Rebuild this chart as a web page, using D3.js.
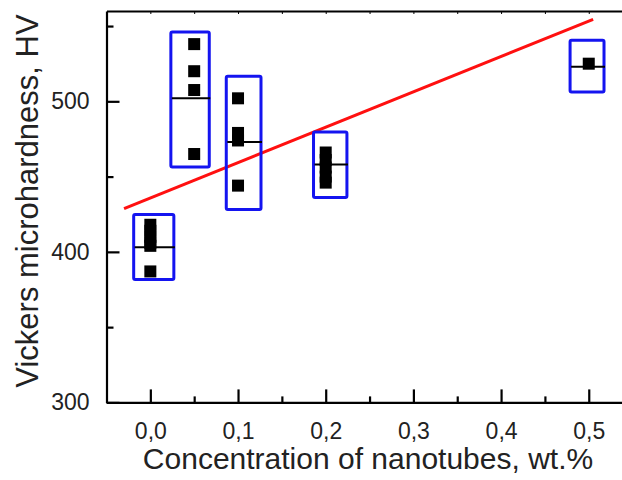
<!DOCTYPE html>
<html>
<head>
<meta charset="utf-8">
<script src="https://cdn.jsdelivr.net/npm/d3@7"></script>
<style>
  html, body { margin: 0; padding: 0; background: #fff; }
  svg { display: block; font-family: "Liberation Sans", Arial, sans-serif; }
</style>
</head>
<body>
<svg id="chart" width="622" height="480"></svg>
<script>
// Nanotube concentration (wt.%) for each sample group
const concentration = [0.0, 0.05, 0.1, 0.2, 0.5];
// Individual microhardness measurements, HV
const measurements = [
  [418, 414, 410, 406, 404, 387],
  [538, 520, 507.5, 465],
  [502, 479, 474, 444],
  [466, 461, 456, 450, 446],
  [525]
];
// Centre line of each group, HV
const centreValue = [403, 502, 473, 458, 523];
// Box extents per group (concentration and HV)
const boxLeft  = [-0.019, 0.0234, 0.0866, 0.1861, 0.4787];
const boxRight = [0.0268, 0.0672, 0.1262, 0.2242, 0.5174];
const boxLow   = [381.6, 456.4, 428.1, 436.1, 506.2];
const boxHigh  = [424.8, 546.0, 516.6, 479.6, 540.5];
// Linear fit: HV = intercept + slope * c
const fitIntercept = 435.8;
const fitSlope = 235;
const fitRange = [-0.03, 0.505];
// Axis ticks
const xTicks = [0, 0.1, 0.2, 0.3, 0.4, 0.5];
const xTickLabels = ["0,0", "0,1", "0,2", "0,3", "0,4", "0,5"];
const xMinorTicks = [0.05, 0.15, 0.25, 0.35, 0.45];
const yTicks = [300, 400, 500];
const yMinorTicks = [350, 450, 550];

const svg = d3.select("#chart");
const plotLeft = 106.5, plotRight = 632.6, plotTop = 11, plotBottom = 402.4;

const x = d3.scaleLinear().domain([-0.05, 0.55]).range([plotLeft, plotRight]);
const y = d3.scaleLinear().domain([300, 560]).range([plotBottom, plotTop]);

// Fit line
const fitLine = d3.line().x(d => x(d)).y(d => y(fitIntercept + fitSlope * d));
svg.append("path")
  .attr("d", fitLine(fitRange))
  .attr("fill", "none")
  .attr("stroke", "#ff1010")
  .attr("stroke-width", 3);

// Group boxes
const groups = concentration.map((c, i) => ({
  c, pts: measurements[i], centre: centreValue[i],
  x0: boxLeft[i], x1: boxRight[i], lo: boxLow[i], hi: boxHigh[i]
}));

svg.append("g").selectAll("rect")
  .data(groups).join("rect")
  .attr("x", d => x(d.x0))
  .attr("y", d => y(d.hi))
  .attr("width", d => x(d.x1) - x(d.x0))
  .attr("height", d => y(d.lo) - y(d.hi))
  .attr("rx", 1.5)
  .attr("fill", "none")
  .attr("stroke", "#1414f0")
  .attr("stroke-width", 3);

// Centre lines
svg.append("g").selectAll("line")
  .data(groups).join("line")
  .attr("x1", d => x(d.x0) + 1)
  .attr("x2", d => x(d.x1) + 1)
  .attr("y1", d => y(d.centre))
  .attr("y2", d => y(d.centre))
  .attr("stroke", "#000")
  .attr("stroke-width", 2);

// Measurement markers
const sq = 12;
const pts = groups.flatMap(g => g.pts.map(v => ({ c: g.c, v })));
svg.append("g").selectAll("rect")
  .data(pts).join("rect")
  .attr("x", d => x(d.c) - sq / 2)
  .attr("y", d => y(d.v) - sq / 2)
  .attr("width", sq)
  .attr("height", sq)
  .attr("fill", "#000");

// Axes with inward ticks
const axisStyle = g => {
  g.selectAll(".domain").attr("stroke", "#000").attr("stroke-width", 2.2);
  g.selectAll(".tick line").attr("stroke", "#000").attr("stroke-width", 2.2);
};

svg.append("g")
  .attr("transform", `translate(0,${plotBottom})`)
  .call(d3.axisBottom(x).tickValues(xTicks).tickSize(-13).tickSizeOuter(0)
        .tickFormat((d, i) => xTickLabels[i]).tickPadding(20))
  .call(axisStyle)
  .call(g => g.selectAll("text").attr("font-size", 23).attr("fill", "#222")
        .attr("font-family", "Liberation Sans, Arial, sans-serif"));

svg.append("g")
  .attr("transform", `translate(0,${plotBottom})`)
  .call(d3.axisBottom(x).tickValues(xMinorTicks).tickSize(-6).tickSizeOuter(0).tickFormat(""))
  .call(axisStyle)
  .call(g => g.select(".domain").remove());

svg.append("g")
  .attr("transform", `translate(${plotLeft},0)`)
  .call(d3.axisLeft(y).tickValues(yTicks).tickSize(-13).tickSizeOuter(0).tickPadding(17))
  .call(axisStyle)
  .call(g => g.selectAll("text").attr("font-size", 23).attr("fill", "#222")
        .attr("font-family", "Liberation Sans, Arial, sans-serif"));

svg.append("g")
  .attr("transform", `translate(${plotLeft},0)`)
  .call(d3.axisLeft(y).tickValues(yMinorTicks).tickSize(-7).tickSizeOuter(0).tickFormat(""))
  .call(axisStyle)
  .call(g => g.select(".domain").remove());

// Top frame with small ticks
svg.append("g")
  .attr("transform", `translate(0,${plotTop})`)
  .call(d3.axisTop(x).tickValues(xTicks.concat(xMinorTicks)).tickSize(-3).tickSizeOuter(0).tickFormat(""))
  .call(axisStyle)
  .call(g => g.selectAll(".tick line").attr("stroke-width", 1));

// Axis titles
svg.append("text")
  .attr("x", 368).attr("y", 469)
  .attr("text-anchor", "middle")
  .attr("font-size", 30)
  .attr("fill", "#222")
  .text("Concentration of nanotubes, wt.%");

svg.append("text")
  .attr("transform", "translate(38,201) rotate(-90)")
  .attr("text-anchor", "middle")
  .attr("font-size", 31)
  .attr("fill", "#222")
  .text("Vickers microhardness, HV");
</script>
</body>
</html>
